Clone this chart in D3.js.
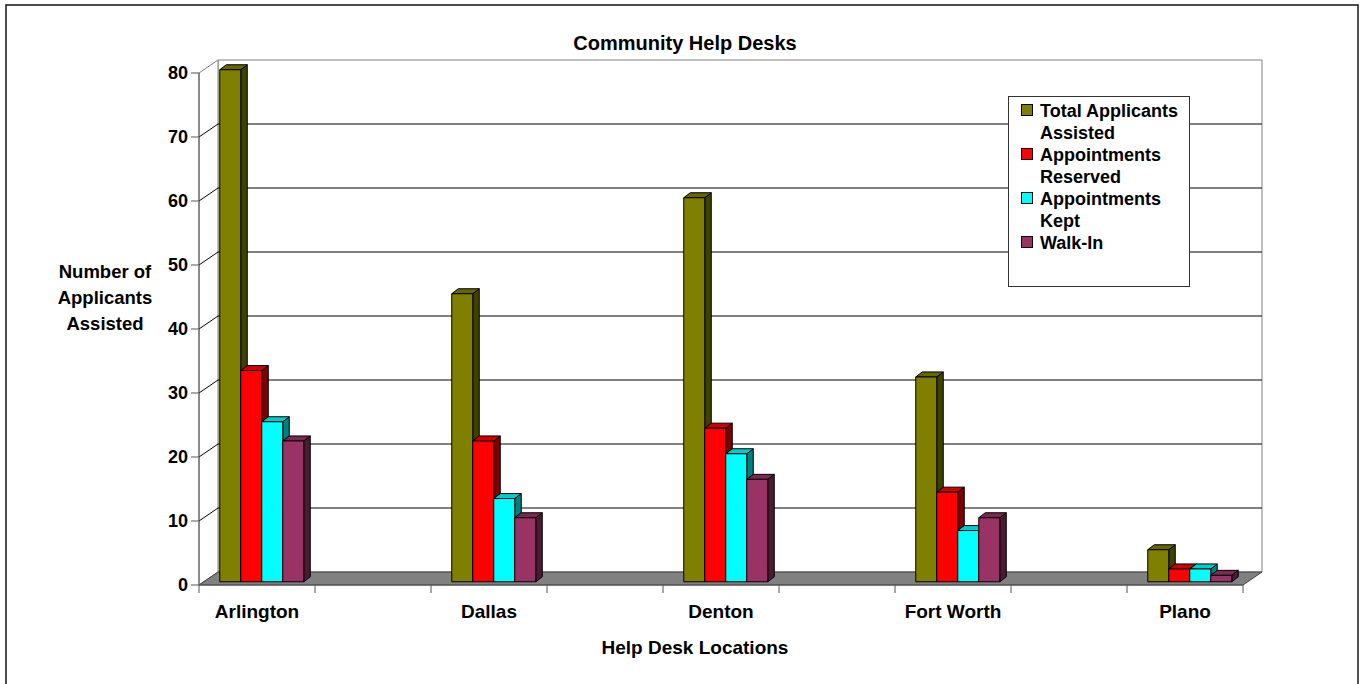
<!DOCTYPE html>
<html>
<head>
<meta charset="utf-8">
<script src="https://cdn.jsdelivr.net/npm/d3@7"></script>
<style>
  html, body { margin: 0; padding: 0; background: #fff; }
  svg text { font-family: "Liberation Sans", Arial, sans-serif; font-weight: bold; fill: #000; }
</style>
</head>
<body>
<svg id="chart" width="1366" height="684"></svg>
<script>
// ---- data ----
const categories = ["Arlington", "Dallas", "Denton", "Fort Worth", "Plano"];
const seriesNames = ["Total Applicants Assisted", "Appointments Reserved", "Appointments Kept", "Walk-In"];
const totalAssisted = [80, 45, 60, 32, 5];
const apptReserved = [33, 22, 24, 14, 2];
const apptKept = [25, 13, 20, 8, 2];
const walkIn = [22, 10, 16, 10, 1];
const yTicks = [0, 10, 20, 30, 40, 50, 60, 70, 80];
const legendLines = [["Total Applicants", "Assisted"], ["Appointments", "Reserved"], ["Appointments", "Kept"], ["Walk-In"]];
const seriesColors = ["#808000", "#FF0000", "#00FFFF", "#993366"];
const titleText = "Community Help Desks";
const xTitle = "Help Desk Locations";
const yTitleLines = ["Number of", "Applicants", "Assisted"];

const seriesValues = [totalAssisted, apptReserved, apptKept, walkIn];

// ---- layout ----
const svg = d3.select("#chart");
const X0 = 199, X1 = 1243, Y0 = 585, Ytop = 73;
const DX = 19, DY = -13;          // wall depth offset
const barShift = 0.25;            // bar front position as fraction of depth
const BDX = 6.5, BDY = -5;        // bar depth

// slots: categories separated by empty slots
const slots = categories.flatMap((c, i) => i < categories.length - 1 ? [c, "__gap" + i] : [c]);
const x = d3.scaleBand().domain(slots).range([X0, X1]).padding(0);
const x1 = d3.scaleBand().domain(seriesNames).range([16, x.bandwidth() - 16]).padding(0);
const y = d3.scaleLinear().domain([0, 80]).range([Y0, Ytop]);

// outer border
svg.append("rect").attr("x", 6).attr("y", 5).attr("width", 1352).attr("height", 700)
  .attr("fill", "#fff").attr("stroke", "#222").attr("stroke-width", 1.6);

const pts = a => a.map(p => p.join(",")).join(" ");

// back wall
svg.append("polygon")
  .attr("points", pts([[X0 + DX, y(80) + DY], [X1 + DX, y(80) + DY], [X1 + DX, y(0) + DY], [X0 + DX, y(0) + DY]]))
  .attr("fill", "#fff").attr("stroke", "#808080").attr("stroke-width", 1);
// side wall
svg.append("polygon")
  .attr("points", pts([[X0, y(80)], [X0 + DX, y(80) + DY], [X0 + DX, y(0) + DY], [X0, y(0)]]))
  .attr("fill", "#fff").attr("stroke", "#808080").attr("stroke-width", 1);

// gridlines
const grid = svg.append("g");
yTicks.filter(v => v > 0 && v < 80).forEach(v => {
  grid.append("line").attr("x1", X0 + DX).attr("x2", X1 + DX)
    .attr("y1", y(v) + DY).attr("y2", y(v) + DY).attr("stroke", "#000").attr("stroke-width", 1);
  grid.append("line").attr("x1", X0).attr("x2", X0 + DX)
    .attr("y1", y(v)).attr("y2", y(v) + DY).attr("stroke", "#000").attr("stroke-width", 1);
});

// floor
svg.append("polygon")
  .attr("points", pts([[X0, y(0)], [X0 + DX, y(0) + DY], [X1 + DX, y(0) + DY], [X1, y(0)]]))
  .attr("fill", "#808080").attr("stroke", "#404040").attr("stroke-width", 1);

// bars
const shade = (c, k) => { const o = d3.rgb(c); return d3.rgb(o.r * k, o.g * k, o.b * k).formatHex(); };
const bars = svg.append("g");
categories.forEach((cat, ci) => {
  seriesNames.forEach((s, si) => {
    const v = seriesValues[si][ci];
    const col = seriesColors[si];
    const bx = x(cat) + x1(s) + DX * barShift;
    const bw = x1.bandwidth();
    const by0 = y(0) + DY * barShift;
    const byt = y(v) + DY * barShift;
    const g = bars.append("g").attr("stroke", "#000").attr("stroke-width", 1).attr("stroke-linejoin", "round");
    // side face
    g.append("polygon").attr("points", pts([[bx + bw, byt], [bx + bw + BDX, byt + BDY], [bx + bw + BDX, by0 + BDY], [bx + bw, by0]]))
      .attr("fill", shade(col, 0.5));
    // top face
    g.append("polygon").attr("points", pts([[bx, byt], [bx + BDX, byt + BDY], [bx + bw + BDX, byt + BDY], [bx + bw, byt]]))
      .attr("fill", shade(col, 0.8));
    // front face
    g.append("rect").attr("x", bx).attr("y", byt).attr("width", bw).attr("height", by0 - byt).attr("fill", col);
  });
});

// y axis
const yAxisG = svg.append("g");
yAxisG.append("line").attr("x1", X0).attr("x2", X0).attr("y1", y(0)).attr("y2", y(80)).attr("stroke", "#555");
yTicks.forEach(v => {
  yAxisG.append("line").attr("x1", X0 - 8).attr("x2", X0).attr("y1", y(v)).attr("y2", y(v)).attr("stroke", "#555");
  yAxisG.append("text").attr("x", X0 - 11).attr("y", y(v)).attr("dy", "0.36em")
    .attr("text-anchor", "end").attr("font-size", 18).text(v);
});

// x axis
const xAxisG = svg.append("g");
xAxisG.append("line").attr("x1", X0).attr("x2", X1).attr("y1", Y0).attr("y2", Y0).attr("stroke", "#555");
slots.forEach(s => {
  xAxisG.append("line").attr("x1", x(s)).attr("x2", x(s)).attr("y1", Y0).attr("y2", Y0 + 8).attr("stroke", "#555");
});
xAxisG.append("line").attr("x1", X1).attr("x2", X1).attr("y1", Y0).attr("y2", Y0 + 8).attr("stroke", "#555");
categories.forEach(c => {
  xAxisG.append("text").attr("x", x(c) + x.bandwidth() / 2).attr("y", 618)
    .attr("text-anchor", "middle").attr("font-size", 19).text(c);
});

// titles
svg.append("text").attr("x", 685).attr("y", 50).attr("text-anchor", "middle").attr("font-size", 20).text(titleText);
svg.append("text").attr("x", 695).attr("y", 654).attr("text-anchor", "middle").attr("font-size", 19).text(xTitle);
yTitleLines.forEach((t, i) => {
  svg.append("text").attr("x", 105).attr("y", 278 + i * 26).attr("text-anchor", "middle").attr("font-size", 18.5).text(t);
});

// legend
const lg = svg.append("g");
lg.append("rect").attr("x", 1008.5).attr("y", 96.5).attr("width", 181).attr("height", 190)
  .attr("fill", "#fff").attr("stroke", "#333").attr("stroke-width", 1);
let ly = 117;
seriesNames.forEach((s, i) => {
  lg.append("rect").attr("x", 1021.5).attr("y", ly - 12.5).attr("width", 11).attr("height", 11)
    .attr("fill", seriesColors[i]).attr("stroke", "#000").attr("stroke-width", 1);
  legendLines[i].forEach((t, j) => {
    lg.append("text").attr("x", 1040).attr("y", ly + j * 22).attr("font-size", 18).text(t);
  });
  ly += 44;
});
</script>
</body>
</html>
